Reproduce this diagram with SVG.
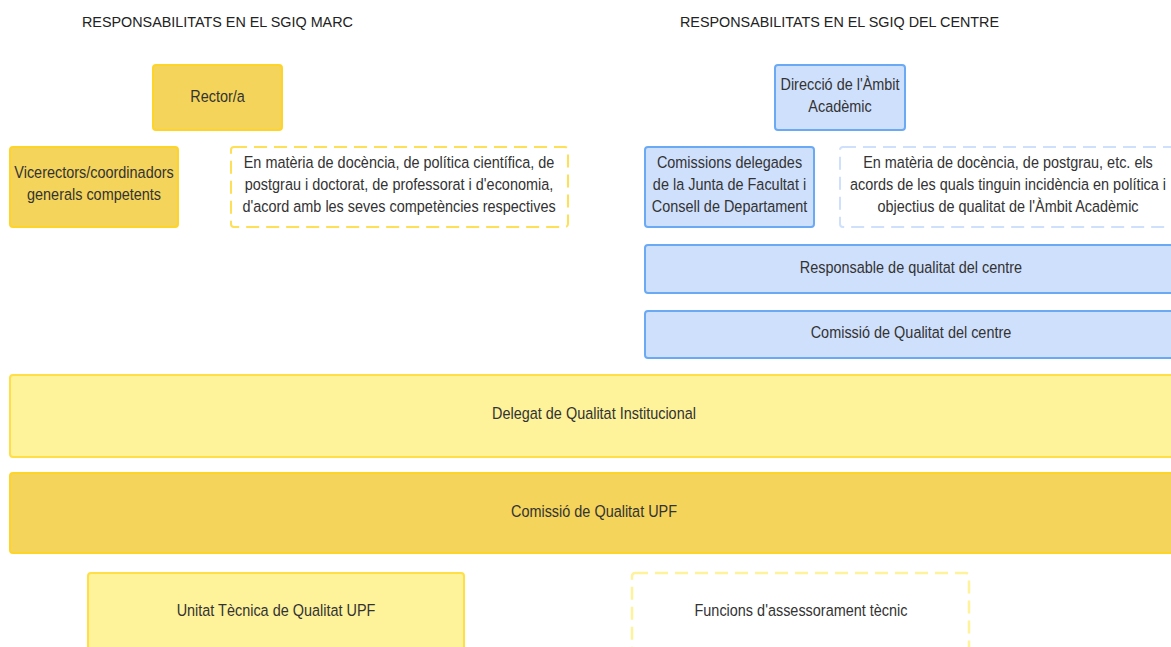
<svg xmlns="http://www.w3.org/2000/svg" width="1171" height="647" viewBox="0 0 1171 647">
<style>
text{font-family:"Liberation Sans",Arial,sans-serif;font-size:16.5px;fill:#333;text-anchor:middle;transform-box:fill-box;transform-origin:center;transform:scaleX(0.875)}
.title{font-size:15px;fill:#222;text-anchor:start;transform-origin:left center;transform:scaleX(0.958)}
.ys{fill:#f4d45a;stroke:#ffd428;stroke-width:2}
.yl{fill:#fef29a;stroke:#ffdf45;stroke-width:2}
.yd{fill:none;stroke:#ffdf55;stroke-width:2;stroke-dasharray:13,7}
.yld{fill:none;stroke:#fef29a;stroke-width:2.5;stroke-dasharray:13,7}
.b{fill:#cfe0fc;stroke:#6aaaf5;stroke-width:2}
.bd{fill:none;stroke:#cfe0fc;stroke-width:2;stroke-dasharray:13,7}
</style>
<rect width="1171" height="647" fill="#fff"/>
<text class="title" x="82" y="27">RESPONSABILITATS EN EL SGIQ MARC</text>
<text class="title" x="680" y="27">RESPONSABILITATS EN EL SGIQ DEL CENTRE</text>
<g id="rector"><rect class="ys" x="153" y="65" width="129" height="65" rx="3"/><text x="217.5" y="102">Rector/a</text></g>
<g id="vicerectors"><rect class="ys" x="10" y="147" width="168" height="80" rx="3"/><text x="94" y="178">Vicerectors/coordinadors</text><text x="94" y="200">generals competents</text></g>
<g id="materia-marc"><rect class="yd" x="231" y="147" width="337" height="80" rx="3"/><text x="399" y="168">En matèria de docència, de política científica, de</text><text x="399" y="190">postgrau i doctorat, de professorat i d'economia,</text><text x="399" y="212">d'acord amb les seves competències respectives</text></g>
<g id="direccio"><rect class="b" x="775" y="65" width="130" height="65" rx="3"/><text x="840" y="90">Direcció de l'Àmbit</text><text x="840" y="112">Acadèmic</text></g>
<g id="comissions"><rect class="b" x="645" y="147" width="169" height="80" rx="3"/><text x="729.5" y="168">Comissions delegades</text><text x="729.5" y="190">de la Junta de Facultat i</text><text x="729.5" y="212">Consell de Departament</text></g>
<g id="materia-centre"><rect class="bd" x="840" y="147" width="345" height="80" rx="3"/><text x="1008" y="168">En matèria de docència, de postgrau, etc. els</text><text x="1008" y="190">acords de les quals tinguin incidència en política i</text><text x="1008" y="212">objectius de qualitat de l'Àmbit Acadèmic</text></g>
<g id="responsable"><rect class="b" x="645" y="245" width="540" height="48" rx="3"/><text x="911" y="273">Responsable de qualitat del centre</text></g>
<g id="comissio-centre"><rect class="b" x="645" y="311" width="540" height="47" rx="3"/><text x="911" y="338">Comissió de Qualitat del centre</text></g>
<g id="delegat"><rect class="yl" x="10" y="375" width="1175" height="82" rx="3"/><text x="594" y="419">Delegat de Qualitat Institucional</text></g>
<g id="comissio-upf"><rect class="ys" x="10" y="473" width="1175" height="80" rx="3"/><text x="594" y="517">Comissió de Qualitat UPF</text></g>
<g id="unitat"><rect class="yl" x="88" y="573" width="376" height="90" rx="3"/><text x="276" y="616">Unitat Tècnica de Qualitat UPF</text></g>
<g id="funcions"><rect class="yld" x="632" y="573" width="337" height="90" rx="3"/><text x="801" y="616">Funcions d'assessorament tècnic</text></g>
<g id="connectors"></g>
</svg>
